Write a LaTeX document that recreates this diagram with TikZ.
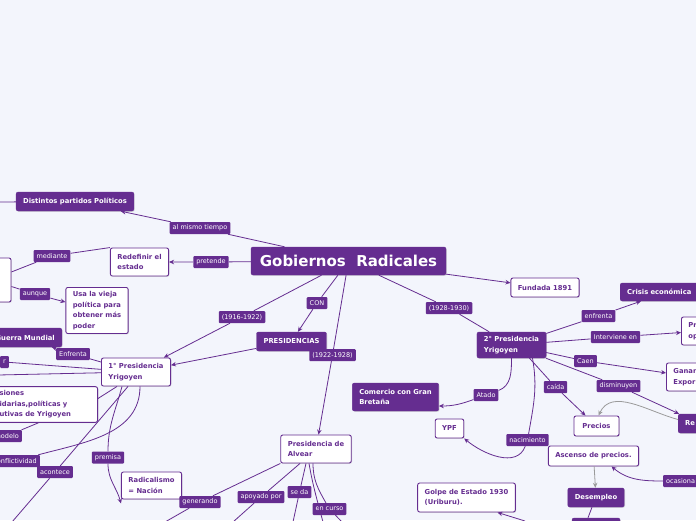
\documentclass[tikz,border=0pt]{standalone}
\usepackage{fontspec}
\setmainfont{DejaVu Sans}
\usetikzlibrary{arrows.meta,shadows}
\definecolor{Morado}{HTML}{652D90}
\definecolor{Fondo}{HTML}{F3F5FC}
\definecolor{Gris}{HTML}{9A9A9A}

\begin{document}
\begin{tikzpicture}[x=1pt,y=1pt,>={Stealth[length=5pt,width=4.5pt]},
  pbox/.style={fill=Morado,draw=Morado,text=white,rounded corners=2pt,font=\fontsize{6.8}{10.5}\selectfont\bfseries,inner xsep=7pt,inner ysep=4pt,minimum height=19pt,align=left,drop shadow={shadow xshift=0.8pt,shadow yshift=-0.8pt,opacity=0.25}},
  wbox/.style={fill=white,draw=Morado,line width=0.9pt,text=Morado,rounded corners=2pt,font=\fontsize{6.8}{10.5}\selectfont\bfseries,inner xsep=7pt,inner ysep=4pt,minimum height=19pt,align=left,drop shadow={shadow xshift=0.8pt,shadow yshift=-0.8pt,opacity=0.25}},
  lbl/.style={fill=Morado,text=white,rounded corners=1pt,font=\fontsize{6.5}{7}\selectfont,inner xsep=3pt,inner ysep=0pt,minimum height=12pt},
  con/.style={Morado,line width=0.8pt},
  gcon/.style={Gris,line width=0.8pt}]
  \fill[Fondo] (0,0) rectangle (696,-520);
  \useasboundingbox (0,0) rectangle (696,-520);
  % centro
  \node[pbox,minimum width=195pt,minimum height=28pt,font=\fontsize{15}{16}\selectfont\bfseries] (gob) at (348.5,-261) {Gobiernos\ \ Radicales};
  % lado izquierdo
  \node[pbox] (partidos) at (75,-201.5) {Distintos partidos Políticos};
  \node[wbox,minimum height=28pt] (redefinir) at (139.5,-262) {Redefinir el\\estado};
  \node[wbox,minimum width=40pt,minimum height=44pt] (izq) at (-9,-280) {};
  \node[wbox,minimum height=45pt] (vieja) at (97,-310.5) {Usa la vieja\\política para\\obtener más\\poder};
  \node[pbox,anchor=east,text width=66pt,align=right] (guerra) at (62,-337.5) {Guerra Mundial};
  \node[wbox,minimum height=28pt] (pres1) at (136,-372) {1° Presidencia\\Yrigoyen};
  \node[wbox,anchor=east,text width=94pt,minimum height=35pt,inner xsep=4pt] (acciones) at (98,-404.5) {siones\\idarias,políticas y\\utivas de Yrigoyen};
  \node[wbox,minimum height=27pt] (nacion) at (151.5,-485.5) {Radicalismo\\= Nación};
  \node[wbox,minimum height=28pt] (alvear) at (316,-449) {Presidencia de\\Alvear};
  \node[pbox] (presid) at (291.5,-341.5) {PRESIDENCIAS};
  % lado derecho
  \node[wbox] (fundada) at (545,-287.5) {Fundada 1891};
  \node[pbox,minimum height=26pt] (pres2) at (511.5,-345) {2° Presidencia\\Yrigoyen};
  \node[pbox,anchor=west,text width=80pt,minimum height=18pt] (crisis) at (620,-292) {Crisis económica};
  \node[wbox,anchor=west,text width=30pt,minimum height=28pt] (presup) at (681,-331) {Pr\\op};
  \node[wbox,anchor=west,text width=40pt,minimum height=28pt] (ganancias) at (666,-377) {Ganan\\Expor};
  \node[pbox,anchor=west,text width=30pt] (re) at (678,-423.5) {Re};
  \node[wbox,minimum width=45pt,minimum height=20pt] (precios) at (596.5,-426) {Precios};
  \node[pbox,minimum height=28pt] (comercio) at (395.5,-397) {Comercio con Gran\\Bretaña};
  \node[wbox] (ypf) at (449.5,-428.5) {YPF};
  \node[wbox,minimum height=20pt] (ascenso) at (593.5,-456) {Ascenso de precios.};
  \node[pbox] (desempleo) at (596,-497.5) {Desempleo};
  \node[pbox,minimum width=48pt,minimum height=20pt] (abajo) at (596,-528) {};
  \node[wbox,minimum height=29pt] (golpe) at (466.5,-497.5) {Golpe de Estado 1930\\(Uriburu).};
  % etiquetas
  \node[lbl] (lalm) at (200,-228) {al mismo tiempo};
  \node[lbl] (lpretende) at (211,-262) {pretende};
  \node[lbl] (lmediante) at (52,-256) {mediante};
  \node[lbl] (launque) at (35,-294) {aunque};
  \node[lbl] (lenfrenta) at (73,-354) {Enfrenta};
  \node[lbl,anchor=east] (lr) at (9,-362) {r};
  \node[lbl,anchor=east] (lmodelo) at (22,-436) {modelo};
  \node[lbl,anchor=east] (lconf) at (40,-461) {conflictividad};
  \node[lbl] (lacontece) at (55,-472) {acontece};
  \node[lbl] (lpremisa) at (108,-457.5) {premisa};
  \node[lbl] (l1916) at (242,-317) {(1916-1922)};
  \node[lbl] (lcon) at (317,-303) {CON};
  \node[lbl] (l1922) at (332.5,-355) {(1922-1928)};
  \node[lbl] (lgenerando) at (200,-502) {generando};
  \node[lbl] (lapoyado) at (261,-497) {apoyado por};
  \node[lbl] (lseda) at (299.5,-492) {se da};
  \node[lbl] (lencurso) at (329.5,-509) {en curso};
  \node[lbl] (l1928) at (449,-308) {(1928-1930)};
  \node[lbl] (lenfrenta2) at (598.5,-316) {enfrenta};
  \node[lbl] (linterviene) at (615.5,-337) {Interviene en};
  \node[lbl] (lcaen) at (585.5,-361) {Caen};
  \node[lbl] (ldisminuyen) at (618.5,-386) {disminuyen};
  \node[lbl] (lcaida) at (555.5,-387) {caída};
  \node[lbl] (latado) at (486,-395) {Atado};
  \node[lbl] (lnacimiento) at (527.5,-440) {nacimiento};
  \node[lbl,anchor=west] (locasiona) at (663,-481) {ocasiona};
  % bordes
  \coordinate (b1) at (-2,-202);
  \coordinate (b2) at (-2,-375);
  \coordinate (b3) at (12,-522);
  \coordinate (b4) at (165,-522);
  \coordinate (b5) at (233,-522);
  \coordinate (b6) at (293,-522);
  \coordinate (b7) at (323,-522);
  \coordinate (b8) at (342,-522);
  \coordinate (b9) at (525,-521);
  % conectores
  \draw[con] (b1) -- (partidos);
  \draw[con,->] (gob) -- (lalm) -- (partidos);
  \draw[con,->] (gob) -- (lpretende) -- (redefinir);
  \draw[con] (izq) -- (lmediante) -- (redefinir.north west);
  \draw[con,->] (izq) -- (launque) -- (vieja);
  \draw[con,->] (pres1) -- (lenfrenta) -- (guerra);
  \draw[con] (lr) -- (pres1);
  \draw[con] (b2) -- (pres1);
  \draw[con,->] (gob) -- (l1916) -- (pres1);
  \draw[con,->] (presid) -- (pres1);
  \draw[con] ([yshift=6pt]acciones.east) -- ([xshift=-19pt]pres1.south);
  \draw[con] ([xshift=-8pt]acciones.south) -- (lmodelo);
  \draw[con] ([xshift=4pt]pres1.south) to[out=-90,in=15] (lconf);
  \draw[con] ([xshift=-8pt]pres1.south) -- (lacontece) -- (b3);
  \draw[con,->] ([xshift=-14pt]pres1.south) to[out=-105,in=90] (lpremisa) to[out=-90,in=105] ([yshift=-4pt]nacion.south west);
  \draw[con,->] (gob) -- (lcon) -- (presid);
  \draw[con,->] (gob) -- (l1922) -- (alvear);
  \draw[con] (alvear.south west) -- (lgenerando) -- (b4);
  \draw[con] ([xshift=-16pt]alvear.south) -- (lapoyado) -- (b5);
  \draw[con] ([xshift=-10pt]alvear.south) -- (lseda) -- (b6);
  \draw[con] ([xshift=-7pt]alvear.south) to[out=-80,in=105] (b7);
  \draw[con] ([xshift=-3pt]alvear.south) to[out=-90,in=120] (lencurso) -- (b8);
  \draw[con,->] (gob) -- (fundada);
  \draw[con] (gob) -- (l1928) -- (pres2);
  \draw[con,->] (pres2) -- (lenfrenta2) -- (crisis);
  \draw[con,->] (pres2) -- (linterviene) -- (presup);
  \draw[con,->] (pres2) -- (lcaen) -- (ganancias);
  \draw[con,->] (pres2) -- (ldisminuyen) -- (re);
  \draw[gcon,->] ([yshift=4pt]re.west) to[out=165,in=65] ([xshift=2pt]precios.north);
  \draw[con,->] ([xshift=18pt]pres2.south) -- (lcaida) -- (precios);
  \draw[con,->] (pres2.south) to[out=-90,in=20] (latado) to[out=200,in=0] ([yshift=-9pt]comercio.east);
  \draw[con,->] ([xshift=21pt]pres2.south) to[out=-80,in=80] (lnacimiento) to[out=-110,in=-40] (ypf.south east);
  \draw[gcon,->] (ascenso) -- (desempleo);
  \draw[con,->] (locasiona) to[out=180,in=-40] ([xshift=18pt]ascenso.south);
  \draw[con] ([xshift=-4pt]desempleo.south) -- ([xshift=-8pt]abajo.north);
  \draw[con,->] (b9) -- ([xshift=31pt]golpe.south);
\end{tikzpicture}
\end{document}
